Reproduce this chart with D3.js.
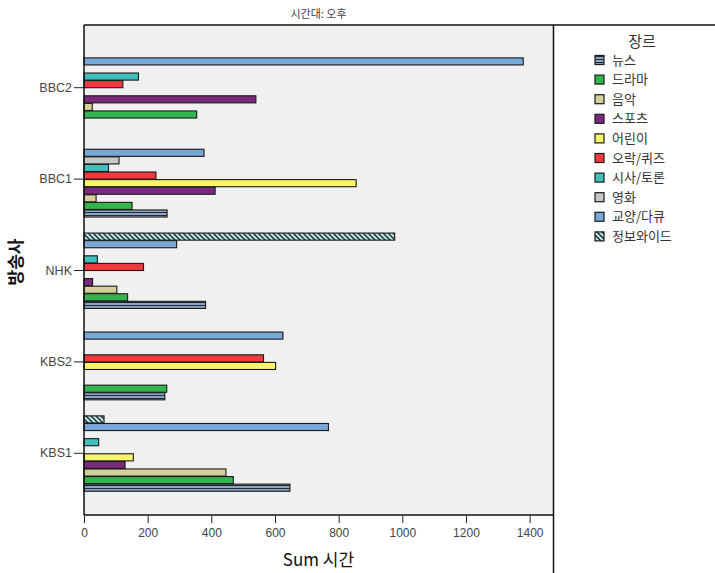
<!DOCTYPE html>
<html><head><meta charset="utf-8">
<script src="https://cdn.jsdelivr.net/npm/d3@7"></script>
<style>
html,body{margin:0;padding:0;background:#fff;}
text{font-family:"Liberation Sans","Noto Sans CJK KR",Arial,sans-serif;}
.kr{font-family:"Noto Sans CJK KR","Liberation Sans",sans-serif;}
</style></head>
<body>
<svg id="chart" width="715" height="573"></svg>
<script>
const title = "시간대: 오후";
const stations = ["KBS1","KBS2","NHK","BBC1","BBC2"];
const genres = ["뉴스","드라마","음악","스포츠","어린이","오락/퀴즈","시사/토론","영화","교양/다큐","정보와이드"];
// values per genre, in station order KBS1, KBS2, NHK, BBC1, BBC2 (null = no bar)
const news      = [647, 254, 382, 261, null];
const drama     = [469, 260, 137, 151, 354];
const music     = [446, null, 103, 38, 26];
const sports    = [129, null, 27, 412, 540];
const kids      = [155, 602, null, 855, null];
const variety   = [null, 564, 187, 226, 122];
const current   = [46, null, 42, 77, 171];
const movie     = [null, null, null, 110, null];
const docu      = [768, 625, 291, 377, 1380];
const infowide  = [63, null, 976, null, null];
const xTicks = [0,200,400,600,800,1000,1200,1400];
const xMax = 1475;

const seriesValues = [news, drama, music, sports, kids, variety, current, movie, docu, infowide];
const colors = ["url(#pNews)","#33b54d","#d4cf9b","#7a2a7c","#faf46a","#f03a3e","#40bfbf","#c8c8c8","#79a8d8","url(#pInfo)"];

const svg = d3.select("#chart");
const defs = svg.append("defs");
const pn = defs.append("pattern").attr("id","pNews").attr("patternUnits","userSpaceOnUse").attr("width",4).attr("height",3);
pn.append("rect").attr("width",4).attr("height",3).attr("fill","#8ea3bf");
pn.append("rect").attr("y",2).attr("width",4).attr("height",1).attr("fill","#1e2a3a");
const pi = defs.append("pattern").attr("id","pInfo").attr("patternUnits","userSpaceOnUse").attr("width",5).attr("height",5);
pi.append("rect").attr("width",5).attr("height",5).attr("fill","#b5e5e6");
pi.append("path").attr("d","M-1,-1L6,6M-1,4L1,6M4,-1L6,1").attr("stroke","#222").attr("stroke-width",1.3);

const L = 84, R = 553.5, T = 25, B = 515;

// plot background
svg.append("rect").attr("x",L).attr("y",T).attr("width",R-L).attr("height",B-T).attr("fill","#f0f0f0");

// title
svg.append("text").attr("class","kr").attr("x",318.5).attr("y",18).attr("text-anchor","middle")
  .attr("font-size",11).attr("fill","#444").text(title);

const x = d3.scaleLinear().domain([0,xMax]).range([L,R]);
const yOrder = stations.slice().reverse(); // BBC2 on top
const y = d3.scaleBand().domain(yOrder).range([42,499]).paddingInner(0.17).paddingOuter(0.085);
const yi = d3.scaleBand().domain(genres.slice().reverse()).range([0,y.bandwidth()]);

// bars
const data = [];
stations.forEach((s,si)=>{
  genres.forEach((g,gi)=>{
    const v = seriesValues[gi][si];
    if(v!=null) data.push({s,g,gi,v});
  });
});
svg.append("g").selectAll("rect").data(data).join("rect")
  .attr("x",x(0)).attr("y",d=>y(d.s)+yi(d.g)+0.5)
  .attr("width",d=>x(d.v)-x(0)).attr("height",yi.bandwidth()-0.5)
  .attr("fill",d=>colors[d.gi]).attr("stroke","#1a1a1a").attr("stroke-width",1.1);

// frame lines
svg.append("line").attr("x1",L).attr("x2",715).attr("y1",T).attr("y2",T).attr("stroke","#111").attr("stroke-width",1.5);
svg.append("line").attr("x1",R).attr("x2",R).attr("y1",T).attr("y2",573).attr("stroke","#111").attr("stroke-width",1.5);

// x axis
const xa = svg.append("g").attr("transform",`translate(0,${B})`)
  .call(d3.axisBottom(x).tickValues(xTicks).tickSize(8).tickPadding(5).tickFormat(d3.format("d")));
xa.select(".domain").attr("stroke","#111").attr("stroke-width",1.5).attr("d",`M${L},0H${R}`);
xa.selectAll(".tick line").attr("stroke","#222");
xa.selectAll("text").attr("font-size",12).attr("fill","#444").attr("font-family","Liberation Sans, Arial, sans-serif");

// y axis
const ya = svg.append("g").attr("transform",`translate(${L},0)`)
  .call(d3.axisLeft(y).tickSize(10).tickPadding(2));
ya.select(".domain").attr("stroke","#111").attr("stroke-width",1.5).attr("d",`M0,${T}V${B}`);
ya.selectAll(".tick line").attr("stroke","#222");
ya.selectAll("text").attr("font-size",12.5).attr("fill","#444").attr("font-family","Liberation Sans, Arial, sans-serif");

// axis titles
svg.append("text").attr("class","kr").attr("x",318.5).attr("y",566).attr("text-anchor","middle")
  .attr("font-size",17).attr("fill","#111").text("Sum 시간");
svg.append("text").attr("class","kr").attr("transform","translate(22,262) rotate(-90)").attr("text-anchor","middle")
  .attr("font-size",17).attr("font-weight","bold").attr("fill","#111").text("방송사");

// legend
const lg = svg.append("g");
lg.append("text").attr("class","kr").attr("x",642).attr("y",47).attr("text-anchor","middle")
  .attr("font-size",15).attr("fill","#333").text("장르");
genres.forEach((g,i)=>{
  const cy = 60 + i*19.6;
  lg.append("rect").attr("x",595).attr("y",cy-4.5).attr("width",9).attr("height",9)
    .attr("fill",colors[i]).attr("stroke","#1a1a1a").attr("stroke-width",1.2);
  lg.append("text").attr("class","kr").attr("x",612).attr("y",cy+4.5)
    .attr("font-size",13).attr("fill","#333").text(g);
});
</script>
</body></html>
